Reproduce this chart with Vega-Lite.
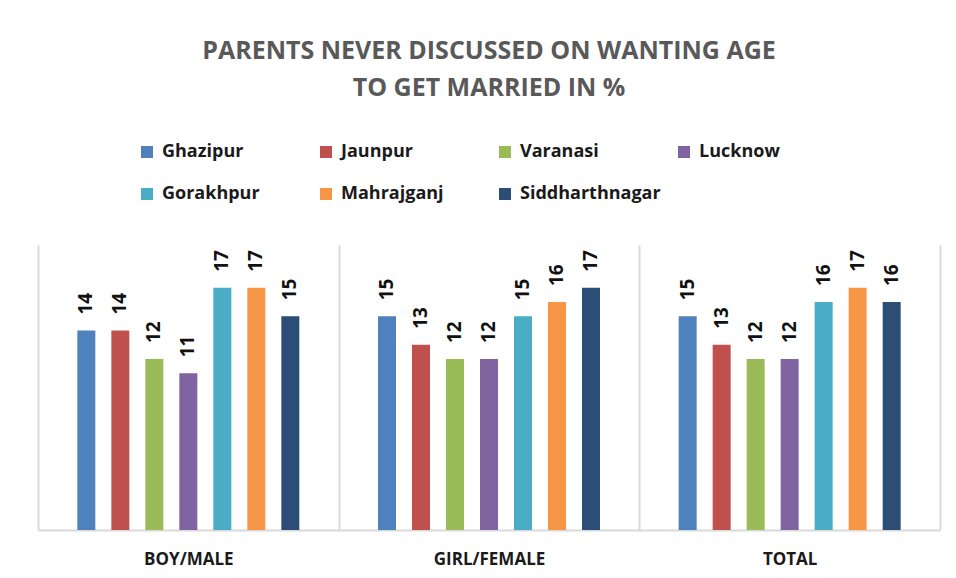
{
  "$schema": "https://vega.github.io/schema/vega-lite/v6.json",
  "width": 902,
  "height": 285,
  "autosize": {"type": "none"},
  "padding": {"left": 38, "top": 245, "right": 16, "bottom": 48},
  "background": "white",
  "title": {
    "text": ["PARENTS NEVER DISCUSSED ON WANTING AGE", "TO GET MARRIED IN %"],
    "font": "Open Sans",
    "fontSize": 25,
    "fontWeight": "bold",
    "color": "#595959",
    "anchor": "middle",
    "lineHeight": 37,
    "offset": 42
  },
  "data": {
    "values": [
      {"group": "BOY/MALE", "district": "Ghazipur", "value": 14},
      {"group": "BOY/MALE", "district": "Jaunpur", "value": 14},
      {"group": "BOY/MALE", "district": "Varanasi", "value": 12},
      {"group": "BOY/MALE", "district": "Lucknow", "value": 11},
      {"group": "BOY/MALE", "district": "Gorakhpur", "value": 17},
      {"group": "BOY/MALE", "district": "Mahrajganj", "value": 17},
      {"group": "BOY/MALE", "district": "Siddharthnagar", "value": 15},
      {"group": "GIRL/FEMALE", "district": "Ghazipur", "value": 15},
      {"group": "GIRL/FEMALE", "district": "Jaunpur", "value": 13},
      {"group": "GIRL/FEMALE", "district": "Varanasi", "value": 12},
      {"group": "GIRL/FEMALE", "district": "Lucknow", "value": 12},
      {"group": "GIRL/FEMALE", "district": "Gorakhpur", "value": 15},
      {"group": "GIRL/FEMALE", "district": "Mahrajganj", "value": 16},
      {"group": "GIRL/FEMALE", "district": "Siddharthnagar", "value": 17},
      {"group": "TOTAL", "district": "Ghazipur", "value": 15},
      {"group": "TOTAL", "district": "Jaunpur", "value": 13},
      {"group": "TOTAL", "district": "Varanasi", "value": 12},
      {"group": "TOTAL", "district": "Lucknow", "value": 12},
      {"group": "TOTAL", "district": "Gorakhpur", "value": 16},
      {"group": "TOTAL", "district": "Mahrajganj", "value": 17},
      {"group": "TOTAL", "district": "Siddharthnagar", "value": 16}
    ]
  },
  "encoding": {
    "x": {
      "field": "group",
      "type": "nominal",
      "sort": ["BOY/MALE", "GIRL/FEMALE", "TOTAL"],
      "scale": {"paddingInner": 0, "paddingOuter": 0},
      "axis": {
        "title": null,
        "labelAngle": 0,
        "labelFont": "Open Sans",
        "labelFontSize": 17,
        "labelFontWeight": "bold",
        "labelColor": "#1a1a1a",
        "labelPadding": 21,
        "domainColor": "#d9d9d9",
        "domainWidth": 2,
        "ticks": false,
        "grid": true,
        "gridColor": "#d9d9d9",
        "gridWidth": 2,
        "tickBand": "extent"
      }
    },
    "xOffset": {
      "field": "district",
      "type": "nominal",
      "sort": ["Ghazipur", "Jaunpur", "Varanasi", "Lucknow", "Gorakhpur", "Mahrajganj", "Siddharthnagar"],
      "scale": {"paddingInner": 0.157, "paddingOuter": 1}
    },
    "y": {
      "field": "value",
      "type": "quantitative",
      "scale": {"domain": [0, 20], "nice": false},
      "axis": null
    }
  },
  "layer": [
    {
      "mark": {"type": "bar", "width": 18},
      "encoding": {
        "color": {
          "field": "district",
          "type": "nominal",
          "sort": ["Ghazipur", "Jaunpur", "Varanasi", "Lucknow", "Gorakhpur", "Mahrajganj", "Siddharthnagar"],
          "scale": {
            "domain": ["Ghazipur", "Jaunpur", "Varanasi", "Lucknow", "Gorakhpur", "Mahrajganj", "Siddharthnagar"],
            "range": ["#4F81BD", "#C0504D", "#9BBB59", "#8064A2", "#4BACC6", "#F79646", "#2C4D75"]
          },
          "legend": {
            "title": null,
            "orient": "none",
            "legendX": 100,
            "legendY": -102,
            "direction": "horizontal",
            "columns": 4,
            "gridAlign": "all",
            "columnPadding": 14,
            "rowPadding": 24,
            "padding": 0,
            "symbolType": "square",
            "symbolSize": 144,
            "symbolStrokeWidth": 0,
            "symbolOpacity": 1,
            "labelFont": "Open Sans",
            "labelFontSize": 18,
            "labelFontWeight": "bold",
            "labelColor": "#1a1a1a",
            "labelOffset": 6,
            "labelLimit": 300
          }
        }
      }
    },
    {
      "mark": {
        "type": "text",
        "angle": 270,
        "align": "left",
        "baseline": "middle",
        "dx": 16,
        "font": "Open Sans",
        "fontSize": 19,
        "fontWeight": "bold",
        "color": "#111111"
      },
      "encoding": {
        "text": {"field": "value", "type": "quantitative"}
      }
    }
  ],
  "config": {
    "view": {"stroke": null}
  }
}
